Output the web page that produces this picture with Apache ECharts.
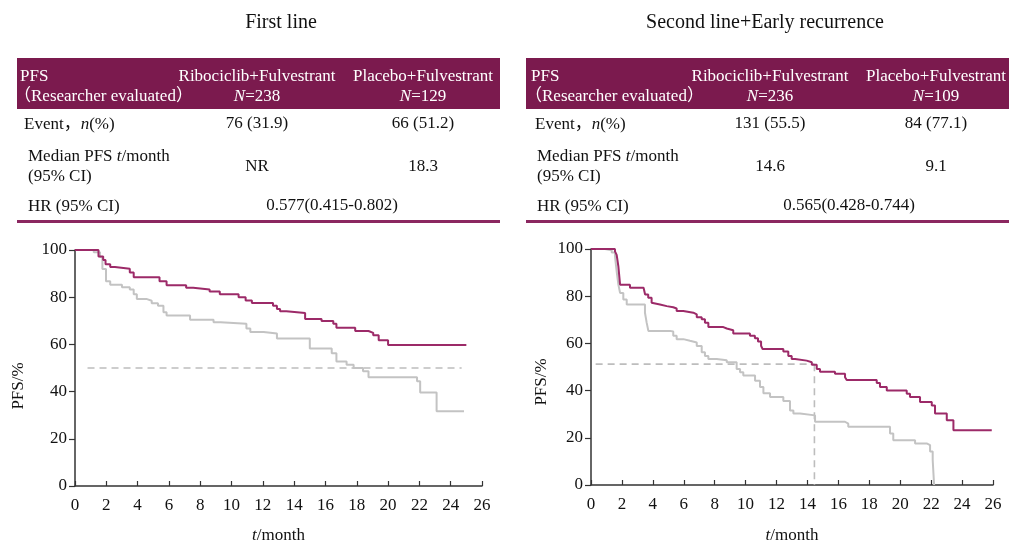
<!DOCTYPE html>
<html><head><meta charset="utf-8">
<script src="https://cdn.jsdelivr.net/npm/echarts@6/dist/echarts.min.js"></script>
<style>html,body{margin:0;padding:0;background:#fff}#c{width:1009px;height:545px}</style>
</head><body><div id="c"></div>
<script>
// ---------- data ----------
const panelTitles = ['First line', 'Second line+Early recurrence'];
const headLabel = ['PFS', '（Researcher evaluated）'];
const armNames = ['Ribociclib+Fulvestrant', 'Placebo+Fulvestrant'];
const nLeft = ['238', '129'];
const nRight = ['236', '109'];
const rowLabels = ['Event，{i|n}(%)', 'Median PFS {i|t}/month', '(95% CI)', 'HR (95% CI)'];
const eventsLeft = ['76 (31.9)', '66 (51.2)'];
const eventsRight = ['131 (55.5)', '84 (77.1)'];
const medianLeft = ['NR', '18.3'];
const medianRight = ['14.6', '9.1'];
const hrLeft = '0.577(0.415-0.802)';
const hrRight = '0.565(0.428-0.744)';
const yAxisName = 'PFS/%';
const xAxisName = '{i|t}/month';

// Kaplan-Meier curves [month, PFS%]
const leftRibo = [[0,100],[1.5,97.2],[1.8,95.8],[1.95,94],[2.25,92.8],[2.55,92.1],[3.5,90.5],[3.75,88.5],[5.4,86.8],[5.85,85.1],[7.1,84],[7.55,83.3],[8.6,82.4],[9.25,81.3],[10.45,80],[10.9,78.6],[11.3,77.5],[12.65,76.4],[12.9,75],[13.1,74],[13.5,73.3],[14.7,70.8],[15.75,69.9],[16.5,68.75],[16.7,67.1],[17.9,65.7],[18.75,64.9],[19.05,63.9],[19.4,61.8],[20.0,59.7],[25.0,59.7]];
const leftPlac = [[0,100],[1.2,99],[1.6,97],[1.75,92],[1.98,86.8],[2.25,85.3],[3.0,84.2],[3.5,83.3],[3.75,81.3],[3.95,79.2],[4.6,78.5],[4.9,77.4],[5.3,76.4],[5.65,73.6],[5.85,72.2],[7.35,70.4],[8.85,69.4],[9.3,68.75],[10.95,66.7],[11.2,65.3],[12.05,64.6],[12.9,62.5],[15.0,58.3],[16.4,56.25],[16.7,52.8],[17.35,51.4],[17.8,50],[18.4,48.6],[18.75,46.1],[21.85,44.4],[22.05,39.6],[23.1,31.7],[24.85,31.7]];
const rightRibo = [[0,100],[1.55,99],[1.66,97.5],[1.77,92.6],[1.88,84.9],[2.52,83.6],[3.4,82.8],[3.5,80.7],[3.7,79.3],[3.92,77.2],[4.03,76.5],[4.46,75.8],[4.9,75.3],[5.32,74.8],[5.54,73.7],[5.97,73],[6.62,72.3],[6.84,71.1],[7.16,70.2],[7.37,68.8],[7.59,66.9],[8.56,66.3],[8.78,65.6],[9.2,64.2],[10.28,63.2],[10.6,62.2],[10.8,60.8],[11.0,59.0],[11.1,57.6],[12.44,56.6],[12.76,54.7],[12.98,53.4],[13.2,52.7],[13.95,52],[14.28,51],[14.6,49.2],[14.81,48],[15.78,47.1],[16.43,45.7],[16.54,44.5],[18.48,43.2],[18.69,41.5],[19.13,40],[20.42,38.7],[20.63,37.3],[21.28,35.2],[22.04,33.7],[22.25,30.3],[23.01,27.4],[23.44,23.2],[25.92,23.2]];
const rightPlac = [[0,100],[0.9,99.5],[1.34,98.5],[1.55,97],[1.66,90.5],[1.77,84.9],[1.88,81.4],[2.09,78.6],[2.31,76.5],[3.49,73],[3.6,68.8],[3.71,65.3],[5.11,65],[5.32,63.2],[5.54,61.8],[5.97,61.1],[6.4,60.4],[6.84,58.9],[7.16,56.2],[7.37,54.7],[7.59,53.4],[8.13,52.9],[8.78,52],[9.42,49.2],[9.64,47.8],[9.85,46.4],[10.61,44.2],[10.93,41.5],[11.15,38.9],[11.58,37.3],[12.44,35.6],[12.87,31.6],[13.09,30.3],[13.52,29.5],[14.49,26.8],[16.43,26],[16.64,24.7],[19.34,21.8],[19.55,19],[20.96,17.6],[21.71,16.9],[21.93,14.2],[22.1,10.6],[22.19,0]];
// median reference lines
const leftMedianLine = [[0.8,50],[24.7,50]];
const rightMedianH = [[0.3,51.2],[14.45,51.2]];
const rightMedianV = [[14.45,51.2],[14.45,0]];

// ---------- styles ----------
const FONT = '"Liberation Serif","Times New Roman","Noto Sans CJK SC",serif';
const PURPLE = '#9C2A68';
const GRAY = '#C3C3C3';
const HEAD = '#7B1A4E';
const TXT = '#111';
const richI = {i:{fontStyle:'italic', fontSize:17, fontFamily:FONT, fill:TXT, color:TXT}};
const richIW = {i:{fontStyle:'italic', fontSize:17, fontFamily:FONT, fill:'#fff'}};

function txt(text, x, y, align, color, rich){
  return {type:'text', x:x, y:y, silent:true,
    style:{text:text, fill:color||TXT, fontSize:17, fontFamily:FONT,
      align:align||'left', verticalAlign:'middle', rich:rich||(color==='#fff'?richIW:richI)}};
}
function table(p, ns, ev, med, hr){
  const g = [];
  g.push({type:'rect', shape:{x:p.x0, y:58, width:p.x1-p.x0, height:51}, style:{fill:HEAD}, silent:true});
  g.push({type:'rect', shape:{x:p.x0, y:220, width:p.x1-p.x0, height:3}, style:{fill:'#8B2760'}, silent:true});
  g.push(txt(headLabel[0], p.lx0, 77, 'left', '#fff'));
  g.push(txt(headLabel[1], p.lx0-6, 97, 'left', '#fff'));
  g.push(txt(armNames[0], p.c1, 77, 'center', '#fff'));
  g.push(txt(armNames[1], p.c2, 77, 'center', '#fff'));
  g.push(txt('{i|N}=' + ns[0], p.c1, 97, 'center', '#fff'));
  g.push(txt('{i|N}=' + ns[1], p.c2, 97, 'center', '#fff'));
  g.push(txt(rowLabels[0], p.lx1, 125, 'left'));
  g.push(txt(ev[0], p.c1, 124, 'center'));
  g.push(txt(ev[1], p.c2, 124, 'center'));
  g.push(txt(rowLabels[1], p.lx2, 157, 'left'));
  g.push(txt(rowLabels[2], p.lx2, 177, 'left'));
  g.push(txt(med[0], p.c1, 167, 'center'));
  g.push(txt(med[1], p.c2, 167, 'center'));
  g.push(txt(rowLabels[3], p.lx2, 207, 'left'));
  g.push(txt(hr, p.hx, 206, 'center'));
  return g;
}

const graphics = []
  .concat(table({x0:17, x1:500, lx0:20, lx1:24, lx2:28, c1:257, c2:423, hx:332}, nLeft, eventsLeft, medianLeft, hrLeft))
  .concat(table({x0:526, x1:1009, lx0:531, lx1:535, lx2:537, c1:770, c2:936, hx:849}, nRight, eventsRight, medianRight, hrRight));

function xAx(idx, gap){
  return {type:'value', gridIndex:idx, min:0, max:26, interval:2,
    axisLine:{lineStyle:{color:'#333', width:1.5}},
    axisTick:{inside:true, length:5, lineStyle:{color:'#333', width:1.2}},
    axisLabel:{color:TXT, fontSize:17, fontFamily:FONT, margin:11},
    splitLine:{show:false},
    name:xAxisName, nameLocation:'middle', nameGap:gap,
    nameTextStyle:{color:TXT, fontSize:17, fontFamily:FONT, rich:richI}};
}
function yAx(idx, gap, pad){
  return {type:'value', gridIndex:idx, min:0, max:100, interval:20,
    axisLine:{show:true, lineStyle:{color:'#333', width:1.5}},
    axisTick:{show:true, inside:false, length:6, lineStyle:{color:'#333', width:1.2}},
    axisLabel:{color:TXT, fontSize:17, fontFamily:FONT, margin:8},
    splitLine:{show:false},
    name:yAxisName, nameLocation:'middle', nameGap:gap, nameRotate:90,
    nameTextStyle:{color:TXT, fontSize:17, fontFamily:FONT, padding:[0, pad, 0, 0]}};
}
function km(data, idx, color){
  return {type:'line', xAxisIndex:idx, yAxisIndex:idx, data:data, step:'end', showSymbol:false,
    lineStyle:{color:color, width:2}, silent:true, z:3};
}
function dash(data, idx){
  return {type:'line', xAxisIndex:idx, yAxisIndex:idx, data:data, showSymbol:false,
    lineStyle:{color:'#BDBDBD', width:1.6, type:[7,5]}, silent:true, z:2};
}

const chart = echarts.init(document.getElementById('c'), null, {renderer:'canvas'});
chart.setOption({
  animation:false,
  backgroundColor:'#fff',
  title:[
    {text:panelTitles[0], left:276, top:8, textAlign:'center', textStyle:{fontFamily:FONT, fontSize:20, fontWeight:'normal', color:TXT}},
    {text:panelTitles[1], left:760, top:8, textAlign:'center', textStyle:{fontFamily:FONT, fontSize:20, fontWeight:'normal', color:TXT}}
  ],
  grid:[
    {left:75, top:250, width:407, height:240},
    {left:591, top:249, width:402, height:238}
  ],
  xAxis:[xAx(0, 41), xAx(1, 42)],
  yAxis:[yAx(0, 48, 36), yAx(1, 41, 30)],
  series:[
    dash(leftMedianLine, 0),
    km(leftPlac, 0, GRAY),
    km(leftRibo, 0, PURPLE),
    dash(rightMedianH, 1),
    dash(rightMedianV, 1),
    km(rightPlac, 1, GRAY),
    km(rightRibo, 1, PURPLE)
  ],
  graphic: graphics
});
</script></body></html>
